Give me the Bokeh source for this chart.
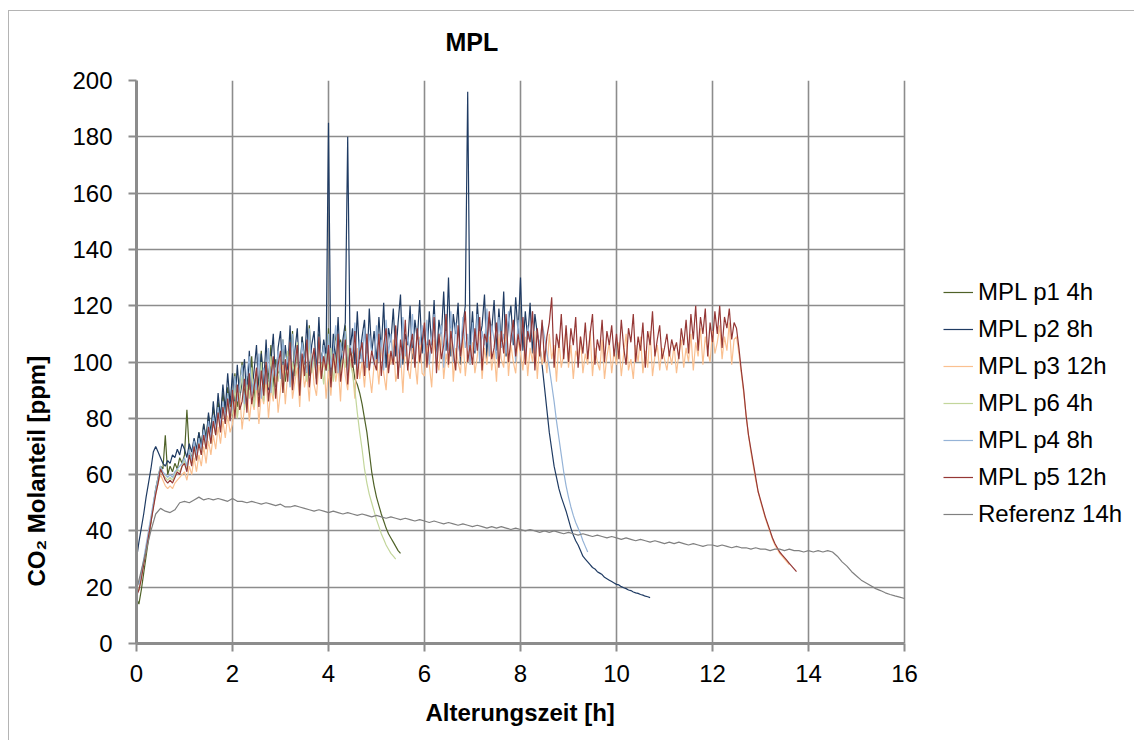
import numpy as np
from bokeh.plotting import figure
from bokeh.models import Legend, LegendItem, Title, Range1d, FixedTicker
from bokeh.embed import file_html
from bokeh.resources import INLINE

# ---------------- data ----------------
DT = 0.05       # sampling step of the sample series [h]
DT_REF = 0.1    # sampling step of the reference series [h]

x_ticks = [0, 2, 4, 6, 8, 10, 12, 14, 16]
y_ticks = [0, 20, 40, 60, 80, 100, 120, 140, 160, 180, 200]

names = ["MPL p1 4h", "MPL p2 8h", "MPL p3 12h", "MPL p6 4h", "MPL p4 8h", "MPL p5 12h", "Referenz 14h"]

p1_4h = [16, 14, 19, 25, 31, 37, 43, 49, 55, 59, 63, 62, 74, 60, 63, 61, 64, 62, 66, 64,
         67, 83, 68, 66, 72, 68, 75, 70, 78, 73, 81, 75, 84, 77, 86, 80, 89, 82, 91, 84,
         86, 96, 84, 93, 100, 88, 95, 90, 102, 86, 97, 92, 104, 89, 99, 94, 106, 91, 101, 96,
         97, 108, 93, 103, 99, 111, 95, 106, 92, 109, 101, 96, 113, 98, 104, 94, 110, 100, 107, 97,
         112, 98, 105, 110, 96, 108, 102, 113, 97, 106, 100, 94, 92, 89, 85, 80, 75, 68, 61, 56,
         52, 49, 46, 43.5, 41, 39, 37.5, 36, 34.5, 33, 32]

p2_8h = [30, 36, 41, 46, 52, 57, 62, 68, 70, 68, 66, 64, 63, 65, 64, 67, 66, 69, 67, 71,
         69, 66, 71, 68, 73, 69, 75, 70, 78, 72, 82, 74, 86, 77, 89, 80, 92, 83, 96, 85,
         96, 84, 99, 87, 93, 101, 85, 104, 89, 97, 106, 88, 103, 92, 108, 90, 100, 110, 91, 105,
         111, 93, 106, 97, 113, 92, 104, 112, 94, 109, 99, 115, 95, 106, 111, 96, 116, 98, 108, 102,
         185, 95, 110, 100, 116, 97, 108, 114, 180, 104, 112, 99, 118, 101, 109, 115, 98, 119, 103, 111,
         100, 116, 104, 121, 98, 112, 107, 119, 102, 114, 124, 99, 110, 106, 120, 101, 115, 108, 122, 103,
         112, 101, 118, 106, 122, 100, 115, 109, 125, 104, 130, 102, 117, 110, 121, 99, 113, 120, 196, 105,
         118, 103, 121, 108, 113, 124, 101, 116, 111, 122, 104, 119, 107, 125, 102, 114, 120, 106, 123, 110,
         130, 104, 118, 108, 121, 103, 117, 110, 106, 99, 91, 83, 75, 69, 63, 59, 55, 52, 49.5, 47,
         44, 41, 38.5, 36.5, 35, 33, 31, 30, 29, 28, 27, 26.5, 25.5, 25, 24.5, 23.5, 23, 22.5, 22, 21.5,
         21, 20.8, 20.2, 19.8, 19.5, 19, 18.8, 18.3, 18, 17.8, 17.4, 17.2, 16.8, 16.6, 16.3]

p3_12h = [20, 22, 25, 29, 34, 39, 44, 49, 53, 57, 60, 58, 56, 55, 56, 55, 57, 58, 59, 60,
          61, 58, 63, 60, 66, 61, 67, 63, 70, 64, 72, 67, 74, 69, 77, 71, 79, 73, 81, 75,
          78, 86, 80, 89, 76, 84, 91, 79, 87, 83, 92, 78, 89, 85, 94, 80, 91, 86, 96, 82,
          90, 99, 85, 96, 101, 87, 93, 98, 84, 100, 91, 96, 86, 103, 92, 88, 99, 94, 102, 87,
          97, 88, 102, 93, 99, 86, 104, 95, 90, 101, 97, 87, 105, 94, 100, 91, 103, 96, 89, 99,
          101, 92, 106, 96, 90, 104, 99, 108, 93, 97, 103, 89, 107, 98, 94, 105, 100, 92, 109, 96,
          95, 106, 99, 91, 108, 101, 97, 110, 94, 103, 98, 112, 93, 105, 100, 96, 109, 95, 104, 99,
          107, 96, 102, 111, 94, 105, 99, 109, 97, 104, 93, 110, 101, 98, 112, 95, 106, 100, 96, 108,
          103, 97, 109, 95, 105, 100, 111, 94, 107, 99, 104, 96, 110, 101, 106, 93, 108, 98, 103, 112,
          98, 106, 94, 104, 101, 109, 96, 103, 99, 111, 95, 105, 100, 97, 108, 94, 102, 107, 96, 104,
          99, 107, 95, 103, 110, 97, 101, 94, 106, 100, 109, 96, 104, 98, 111, 95, 102, 106, 97, 105,
          101, 97, 104, 99, 106, 96, 103, 108, 98, 105, 100, 110, 97, 107, 102, 112, 99, 109, 104, 100,
          111, 103, 107, 113, 101, 109, 104, 114, 99, 108, 109, 103, 96, 89, 81, 74, 68, 63, 58, 54,
          50.5, 47.5, 44.5, 42, 39.5, 37, 35, 33.5, 32, 31, 30, 29, 28]

p6_4h = [21, 19, 23, 28, 33, 38, 44, 49, 54, 58, 62, 60, 59, 58, 59, 58, 60, 62, 61, 63,
         65, 62, 67, 64, 70, 65, 72, 67, 74, 69, 77, 71, 79, 74, 82, 76, 84, 78, 86, 80,
         82, 91, 80, 89, 95, 83, 92, 87, 98, 84, 94, 89, 100, 86, 96, 91, 102, 88, 98, 93,
         101, 89, 97, 104, 92, 100, 95, 107, 90, 102, 98, 93, 108, 96, 101, 94, 106, 99, 92, 103,
         97, 105, 93, 101, 107, 95, 103, 98, 106, 100, 96, 90, 82, 75, 69, 62, 57, 53, 50, 47,
         44, 41.5, 39, 37, 35, 33.5, 32, 31, 30]

p4_8h = [22, 21, 25, 30, 35, 40, 45, 50, 55, 59, 63, 61, 60, 59, 60, 59, 61, 62, 63, 64,
         66, 63, 69, 65, 72, 67, 73, 69, 76, 71, 79, 73, 81, 76, 84, 77, 86, 80, 89, 81,
         84, 95, 86, 92, 99, 85, 96, 102, 88, 94, 90, 103, 87, 98, 92, 105, 89, 100, 95, 104,
         94, 108, 97, 102, 91, 110, 99, 105, 93, 107, 101, 96, 112, 98, 104, 95, 109, 100, 106, 97,
         110, 98, 104, 113, 96, 107, 101, 111, 95, 106, 103, 114, 97, 108, 100, 112, 98, 110, 104, 99,
         113, 100, 108, 97, 115, 103, 110, 99, 112, 105, 98, 116, 102, 109, 104, 117, 100, 111, 106, 113,
         103, 115, 99, 109, 117, 101, 107, 113, 98, 111, 104, 118, 100, 114, 106, 102, 116, 105, 110, 99,
         114, 104, 117, 100, 111, 106, 119, 102, 113, 108, 101, 116, 105, 110, 103, 118, 107, 112, 100, 115,
         106, 116, 101, 113, 108, 118, 103, 111, 105, 114, 109, 103, 98, 92, 86, 79, 73, 67, 61, 56,
         52, 48.5, 45.5, 43, 41, 39, 36.5, 34.5, 32.5]

p5_12h = [17, 19, 23, 28, 33, 38, 43, 48, 53, 57, 62, 60, 58, 57, 58, 57, 59, 61, 60, 63,
          64, 61, 67, 63, 70, 65, 71, 67, 74, 69, 77, 71, 79, 74, 82, 75, 84, 78, 87, 79,
          90, 80, 92, 83, 86, 94, 82, 96, 85, 91, 98, 84, 97, 88, 100, 86, 95, 102, 87, 99,
          104, 89, 101, 93, 107, 90, 99, 106, 88, 103, 95, 108, 91, 100, 105, 92, 109, 94, 102, 97,
          106, 91, 103, 96, 110, 93, 100, 108, 92, 105, 98, 111, 94, 103, 107, 95, 110, 97, 104, 100,
          97, 110, 95, 106, 112, 96, 104, 99, 113, 94, 108, 101, 115, 97, 105, 110, 98, 112, 100, 107,
          114, 98, 108, 103, 116, 96, 110, 101, 106, 117, 99, 111, 104, 97, 113, 102, 109, 118, 100, 106,
          99, 112, 104, 116, 97, 110, 107, 118, 101, 105, 114, 98, 111, 103, 117, 100, 108, 115, 102, 110,
          104, 116, 99, 111, 107, 118, 97, 112, 102, 115, 100, 109, 114, 123, 98, 110, 105, 117, 101, 113,
          100, 112, 106, 116, 98, 109, 103, 114, 101, 110, 117, 99, 108, 104, 115, 100, 111, 106, 113, 102,
          110, 101, 115, 105, 99, 112, 107, 117, 100, 109, 104, 114, 98, 111, 106, 118, 102, 108, 113, 101,
          105, 110, 102, 108, 104, 107, 101, 112, 106, 115, 103, 117, 108, 120, 104, 116, 110, 119, 102, 114,
          107, 118, 110, 120, 105, 116, 112, 119, 108, 114, 112, 105, 97, 90, 81, 74, 69, 64, 59, 54,
          51, 48, 45, 42.5, 40, 37.5, 35.5, 34, 32.5, 31.5, 30.5, 29.5, 28.5, 27.5, 26.5, 25.5]

ref_14h = [19, 26, 33, 40, 46, 48, 47, 46.5, 47.5, 50,
           50.5, 50, 51, 52, 51, 51.5, 51, 51.5, 51, 50.5,
           51.5, 50.5, 50.5, 50, 50.5, 50, 49.5, 50, 49.5, 49,
           49.5, 48.5, 48.5, 49, 48.5, 48, 47.5, 47, 47.5, 47,
           46.5, 47, 46.5, 46, 46.5, 46, 45.5, 46, 45.5, 45,
           45.5, 45, 44.5, 45, 44.5, 44, 44.5, 44, 43.5, 44,
           43.5, 43, 43.5, 43, 42.5, 43, 42.5, 42, 42.5, 42,
           41.5, 42, 41.5, 41, 41.5, 41, 41.5, 41, 40.5, 41,
           40.5, 40, 40.5, 40, 39.5, 40, 39.5, 40, 39.5, 39,
           39.5, 39, 38.5, 39, 38.5, 38, 38.5, 38, 37.5, 38,
           37.5, 37, 37.5, 37, 36.5, 37, 36.5, 36, 36.5, 36,
           35.5, 36, 35.5, 36, 35.5, 35, 35.5, 35, 34.5, 35,
           35, 34.5, 35, 34.5, 34, 34.5, 34, 34, 33.5, 34,
           33.5, 33.5, 33, 33.5, 33.5, 33, 33.5, 33, 33, 32.5,
           33, 32.5, 33, 32.5, 33, 32.5, 31, 29, 27.5, 25.5,
           24, 22.5, 21.5, 20.5, 19.5, 18.8, 18, 17.4, 16.9, 16.5,
           16]

series = [
    (names[0], p1_4h, DT, "#4F6228"),
    (names[1], p2_8h, DT, "#1F3B63"),
    (names[2], p3_12h, DT, "#FAC090"),
    (names[3], p6_4h, DT, "#C3D69B"),
    (names[4], p4_8h, DT, "#95B3D7"),
    (names[5], p5_12h, DT, "#953735"),
    (names[6], ref_14h, DT_REF, "#808080"),
]

FONT = "Liberation Sans"
GRID = "#8c8c8c"
BORDER = "#b4b4b4"

X_MAX, Y_MAX = 16, 200
# the plot frame runs on to the right edge so that the legend can sit inside it;
# axis, ticks and grid stay bounded to 0..16 h.
X_FRAME_END = X_MAX + (1134 - 904) / 48.0

p = figure(width=1134, height=740, output_backend="svg", toolbar_location=None,
           x_range=Range1d(0, X_FRAME_END), y_range=Range1d(0, Y_MAX),
           min_border_left=136, min_border_right=0, min_border_top=80, min_border_bottom=97)
p.outline_line_color = None
p.background_fill_color = "white"
p.border_fill_color = None
p.styles = {
    "background-color": "white",
    "background-image": f"linear-gradient({BORDER}, {BORDER}), linear-gradient({BORDER}, {BORDER})",
    "background-size": "1px 100%, 100% 1px",
    "background-position": "8px 10px, 8px 10px",
    "background-repeat": "no-repeat",
}

for ax in (p.xaxis[0], p.yaxis[0]):
    ax.axis_line_color = GRID
    ax.axis_line_width = 3
    ax.major_tick_line_color = GRID
    ax.major_tick_line_width = 2
    ax.major_tick_out = 8
    ax.major_tick_in = 0
    ax.minor_tick_line_color = None
    ax.major_label_text_font = FONT
    ax.major_label_text_font_size = "24px"
    ax.major_label_text_color = "black"

p.xaxis.bounds = (0, X_MAX)
p.yaxis.bounds = (0, Y_MAX)
p.xaxis.ticker = FixedTicker(ticks=x_ticks)
p.yaxis.ticker = FixedTicker(ticks=y_ticks)
p.xaxis.major_label_standoff = 13
p.yaxis.major_label_standoff = 16

p.grid.grid_line_color = GRID
p.grid.grid_line_width = 1.6
p.xgrid.bounds = (0, X_MAX)
p.ygrid.bounds = (0, Y_MAX)
try:
    p.xgrid.cross_bounds = (0, Y_MAX)
    p.ygrid.cross_bounds = (0, X_MAX)
except AttributeError:
    pass

# chart title, placed like the reference (left of the plot-area centre)
p.title.text = "MPL"
p.title.align = "left"
p.title.offset = 309
p.title.standoff = 50
p.title.text_font = FONT
p.title.text_font_style = "bold"
p.title.text_font_size = "25px"
p.title.text_color = "black"

# y-axis title (lower than the plot-area centre in the reference)
p.add_layout(Title(text="CO\u2082  Molanteil [ppm]", align="left", offset=57, standoff=40,
                   text_font=FONT, text_font_style="bold", text_font_size="24px",
                   text_color="black"), "left")

# x-axis title, centred under the 0..16 h axis
p.add_layout(Title(text="Alterungszeit [h]", align="left", offset=289, standoff=24,
                   vertical_align="bottom",
                   text_font=FONT, text_font_style="bold", text_font_size="24px",
                   text_color="black"), "below")

items = []
for name, vals, dt, color in series:
    t = np.arange(len(vals)) * dt
    r = p.line(t, vals, line_color=color, line_width=1.2)
    items.append(LegendItem(label=name, renderers=[r]))

legend = Legend(items=items, location=(807, 115), orientation="vertical",
                glyph_width=30, glyph_height=24, label_height=24, spacing=9,
                padding=0, margin=0, label_standoff=5,
                label_text_font=FONT, label_text_font_size="24px", label_text_color="black",
                border_line_color=None, background_fill_alpha=0)
p.add_layout(legend)

open("out.html", "w").write(file_html(p, INLINE))
